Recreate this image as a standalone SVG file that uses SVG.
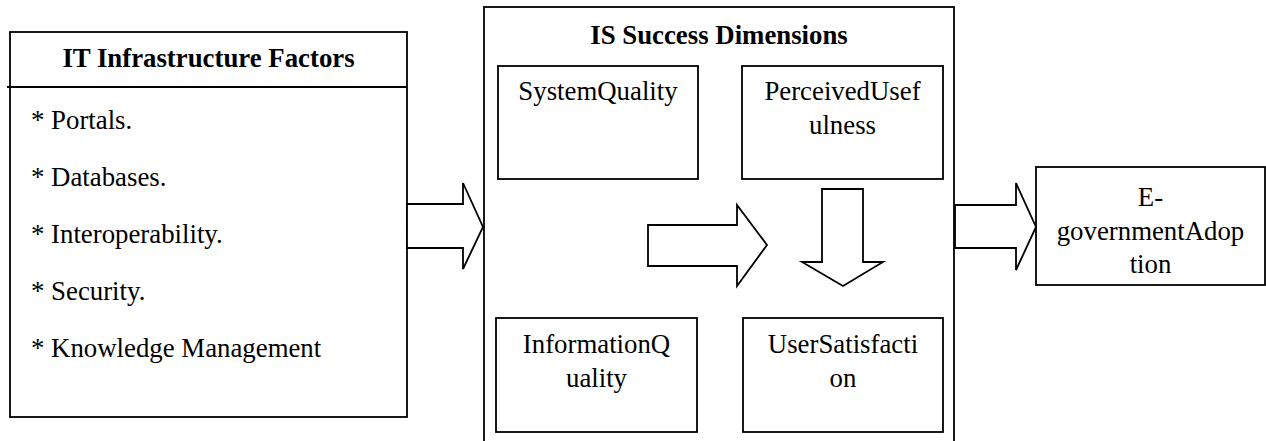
<svg xmlns="http://www.w3.org/2000/svg" width="1266" height="441" viewBox="0 0 1266 441">
  <style>
    .box { fill: #ffffff; stroke: #000000; stroke-width: 1.8; }
    .arrow { fill: #ffffff; stroke: #000000; stroke-width: 1.8; stroke-linejoin: miter; }
    .line { stroke: #000000; stroke-width: 1.8; fill: none; }
    text { font-family: "Liberation Serif", "Times New Roman", serif; font-size: 26.8px; fill: #000000; }
    .title { font-weight: bold; text-anchor: middle; }
    .mid { text-anchor: middle; }
  </style>

  <!-- IT infrastructure panel -->
  <g id="it-infrastructure">
    <rect class="box" x="10" y="32" width="397" height="385"/>
    <line class="line" x1="7" y1="87" x2="407" y2="87"/>
    <text class="title" x="208.5" y="67">IT Infrastructure Factors</text>
    <text x="31" y="129">* Portals.</text>
    <text x="31" y="186">* Databases.</text>
    <text x="31" y="243">* Interoperability.</text>
    <text x="31" y="300">* Security.</text>
    <text x="31" y="357">* Knowledge Management</text>
  </g>

  <!-- IS success dimensions panel -->
  <g id="is-success">
    <rect class="box" x="484" y="7" width="470" height="440"/>
    <text class="title" x="719" y="44">IS Success Dimensions</text>
  </g>

  <g id="system-quality">
    <rect class="box" x="498" y="66" width="200" height="113"/>
    <text class="mid" x="598" y="100">SystemQuality</text>
  </g>

  <g id="perceived-usefulness">
    <rect class="box" x="742" y="66" width="201" height="113"/>
    <text class="mid" x="842.5" y="100">PerceivedUsef</text>
    <text class="mid" x="842.5" y="134">ulness</text>
  </g>

  <g id="information-quality">
    <rect class="box" x="496" y="318" width="201" height="114"/>
    <text class="mid" x="596.5" y="353">InformationQ</text>
    <text class="mid" x="596.5" y="387">uality</text>
  </g>

  <g id="user-satisfaction">
    <rect class="box" x="743" y="318" width="200" height="114"/>
    <text class="mid" x="843" y="353">UserSatisfacti</text>
    <text class="mid" x="843" y="387">on</text>
  </g>

  <g id="egov-adoption">
    <rect class="box" x="1036" y="167" width="229" height="118"/>
    <text class="mid" x="1150.5" y="206">E-</text>
    <text class="mid" x="1150.5" y="240">governmentAdop</text>
    <text class="mid" x="1150.5" y="273">tion</text>
  </g>

  <!-- block arrows -->
  <g id="connectors">
    <path class="arrow" d="M407,204 H463 V183 L483,227 L463,269 V248 H407 Z"/>
    <path class="arrow" d="M648,225 H737 V205 L767,245 L737,286 V266 H648 Z"/>
    <path class="arrow" d="M822,189 H863 V262 H883 L843,286 L802,262 H822 Z"/>
    <path class="arrow" d="M955,205 H1016 V183 L1036,227 L1016,270 V248 H955 Z"/>
  </g>
</svg>
